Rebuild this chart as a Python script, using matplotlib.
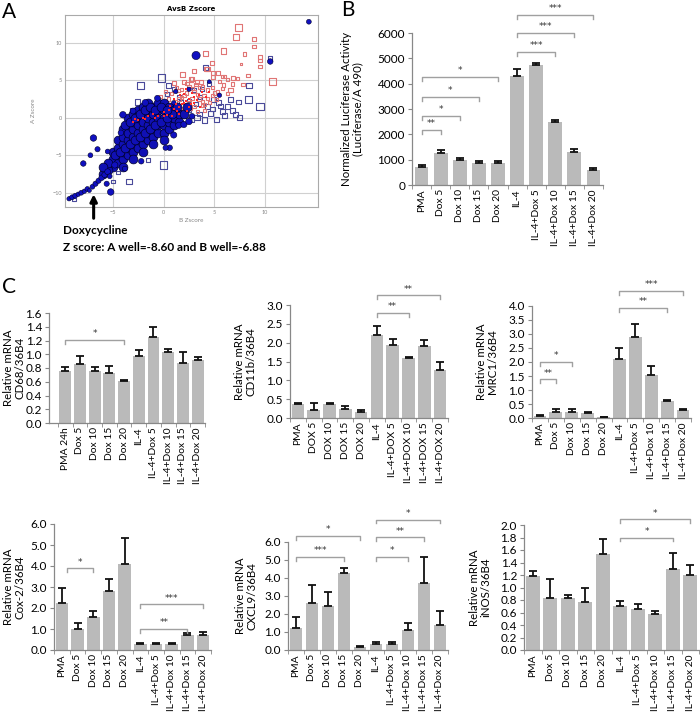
import matplotlib
matplotlib.use("Agg")
import matplotlib.pyplot as plt
import numpy as np

plt.rcParams['font.family'] = ['Lato', 'DejaVu Sans']

W, H = 700, 712

# ---------------- Panel A data ----------------
core_x = [-5, -5, -5, -4.5, -4.5, -4.5, -4.5, -4, -4, -4, -4, -4,
          -3.5, -3.5, -3.5, -3.5, -3.5, -3.5, -3, -3, -3, -3, -3, -3,
          -2.5, -2.5, -2.5, -2.5, -2.5, -2.5, -2, -2, -2, -2, -2, -2,
          -1.5, -1.5, -1.5, -1.5, -1.5, -1.5, -1, -1, -1, -1, -1,
          -0.5, -0.5, -0.5, -0.5, -0.5, 0, 0, 0, 0, 0, 0.5, 0.5, 0.5, 0.5,
          1, 1, 1, 1.5, 1.5, -5.5, -5.5, -6, -6, -4, -3, -2, -1, 0,
          -4.8, -4.3, -3.8, -3.3, -2.8, -2.3, -1.8, -1.3, -0.8, -0.3, 0.3, 0.8,
          -3.8, -3.3, -2.8, -2.3, -1.8, -1.3, -0.8, -0.3, 0.3, 1.3, 2.0, 2.3]
core_y = [-6.5, -5.5, -4.5, -6, -5, -4, -3, -5.5, -4.5, -3.5, -2.5, -1.5,
          -5, -4, -3, -2, -1, 0, -4.5, -3.5, -2.5, -1.5, -0.5, 0.5,
          -4, -3, -2, -1, 0, 1, -3.5, -2.5, -1.5, -0.5, 0.5, 1.5,
          -3, -2, -1, 0, 1, 2, -2.5, -1.5, -0.5, 0.5, 1.5,
          -2, -1, 0, 1, 2, -2, -1, 0, 1, 2, -1.5, -0.5, 0.5, 1.5,
          -1, 0, 1, -0.5, 0.5, -7, -6, -7.5, -6.5, -6.5, -5.5, -4.5, -3.5, -3,
          -5.0, -4.5, -4.0, -3.5, -3.0, -2.5, -2.0, -1.5, -1.0, -0.5, 0.0, 0.5,
          -1.0, -0.5, 0.0, 0.5, 1.0, 1.5, 1.0, 1.5, 1.0, 1.5, 0.5, 1.5]

blue_x = [-9.3, -9.0, -8.7, -8.4, -8.1, -7.8, -7.5, -7.3, -7.0, -6.7, -6.4, -6.1,
          -5.8, -5.5, -5.3, -4.8, -6.9, -7.9, -5.5, -5.2, -5.6, -4.0, -3.0, -1.8,
          -0.6, 1.5, 2.0, 2.5, 1.0, 0.6, 3.2, 10.5, 14.3, 1.2, 2.5, 4.5, 5.5, 1.0,
          -6.5, -4.2, -3.8, -2.2, 0.2, 2.8, -7.2]
blue_y = [-10.8, -10.6, -10.4, -10.2, -10.0, -9.8, -9.5, -9.7, -9.2, -8.8, -8.4, -8.0,
          -7.6, -7.2, -7.8, -6.3, -2.7, -6.1, -4.5, -9.9, -8.8, 0.4, 0.9, 2.0,
          2.6, -1.0, -0.9, -0.5, -2.3, -4.0, 8.3, 7.5, 12.8, 3.5, 3.8, 4.8, 3.0, 2.0,
          -4.2, -2.0, -6.8, -5.8, -4.0, 0.2, -5.0]
blue_s = [10, 12, 12, 10, 12, 10, 12, 8, 12, 14, 14, 16,
          16, 18, 12, 20, 22, 16, 12, 22, 14, 22, 18, 22,
          18, 20, 20, 22, 20, 16, 35, 16, 12, 10, 10, 8, 10, 10,
          14, 16, 14, 16, 14, 16, 12]

rsq_x = [7.4, 7.1, 8.9, 8.9, 5.9, 4.1, 8.0, 9.5, 9.5, 9.5, 4.8, 7.6, 4.3, 4.9,
         1.9, 8.3, 10.7, 5.8, 6.3, 7.3, 7.8, 2.7, 3.3, 2.8, 3.7, 1.0, 4.9, 5.9,
         6.6, 5.4, 4.2, 6.8, 1.5, 2.0, 2.5, 3.0, 3.5, 4.0, 4.5, 2.0, 3.0, 1.0,
         0.5, 3.5, 2.5, 4.0, 5.0, 1.5, 2.2, 3.8,
         0.8, 1.3, 1.8, 2.3, 2.8, 3.2, 3.8, 4.3, 4.8, 5.3, 5.8, 6.3, 0.3, 1.2,
         1.8, 2.3, 2.8, 3.3, 3.8, 4.3, 4.8, 5.2, 1.0, 1.7, 2.6, 3.3, 4.0, 0.2,
         -0.3, 5.5, 6.0, 3.0, 2.0, 6.8]
rsq_y = [12.0, 10.8, 10.5, 9.5, 8.9, 8.6, 8.5, 8.1, 7.6, 6.8, 7.3, 7.2, 6.5, 6.0,
         5.8, 5.6, 4.8, 5.5, 5.1, 5.2, 4.4, 5.1, 4.8, 5.2, 4.8, 4.6, 5.4, 4.4,
         3.7, 6.0, 6.5, 5.3, 2.5, 3.0, 2.0, 3.5, 2.5, 3.0, 2.0, 1.0, 1.5, 1.5,
         2.5, 4.0, 4.2, 1.0, 3.3, 3.6, 1.8, 1.6,
         3.2, 4.0, 3.8, 4.6, 3.9, 4.4, 4.1, 3.7, 4.0, 3.5, 3.9, 3.2, 1.8, 2.2,
         2.7, 3.3, 2.6, 3.1, 2.2, 2.6, 3.0, 2.4, 0.8, 1.2, 1.2, 0.8, 1.8, 3.5,
         2.8, 4.8, 5.5, 6.2, 4.8, 4.5]
rsq_s = [26, 18, 6, 6, 14, 14, 5, 6, 6, 6, 7, 3, 12, 8,
         12, 6, 24, 6, 6, 6, 6, 10, 10, 8, 8, 10, 8, 8,
         10, 8, 12, 8, 6, 6, 6, 6, 6, 6, 6, 5, 5, 5,
         5, 5, 6, 5, 6, 5, 5, 5,
         6, 6, 5, 6, 5, 6, 5, 6, 5, 6, 5, 6, 5, 5,
         5, 5, 5, 5, 5, 5, 5, 5, 5, 5, 5, 5, 5, 6,
         6, 6, 6, 8, 8, 6]

rdot_x = [-3, -2.5, -2, -1.5, -1, -0.5, 0, 0.5, 1, 1.5, 2, 2.5, 3, 1, 2, 3, 1.5, 2.5, 3.5,
          0.3, 0.8, 1.3, 1.8, 2.2, 2.8, 3.3, 3.8, 4.2, 1.2, 0.6, 2.3, 2.7, 3.6, 4.5,
          1.6, 2.2, -0.8, -1.8, -2.8, 0.0]
rdot_y = [-0.5, -0.3, 0, 0.2, 0.5, 0.3, 0.8, 1, 1.2, 1.5, 2, 2.5, 2.8, 2.5, 3.2, 2, 0.5, 1.5, 3,
          0.4, 0.2, 0.9, 1.8, 2.3, 3.3, 2.4, 3.5, 2.8, 1.9, 1.6, 0.9, 1.9, 1.4, 3.4,
          3.0, 3.8, 0.0, -0.2, -0.2, 0.3]

bsq_x = [-2.3, -0.2, -2.6, -3.1, 0.5, 0.0, -3.4, -5.0, -1.5, -2.0, -4.5, -8.8,
         3.3, 4.9, 6.3, 7.1, 8.4, 9.5, 8.4, 7.4, 5.8, 4.3, 2.4, 3.6, 1.7, 4.1,
         10.5, 6.6, 5.4, 3.0, 1.4, 1.0,
         2.0, 2.7, 3.5, 4.0, 4.6, 5.2, 6.0, 6.8, 7.5, 3.2, 4.8, 5.6, 2.5, 1.5,
         0.3, 1.0, 3.8, 4.5]
bsq_y = [4.3, 5.3, 2.1, 1.1, 4.3, -6.3, -8.5, -8.5, -5.6, -3.4, -7.3, -10.9,
         0.0, 2.4, 1.5, 0.4, 2.4, 1.5, 4.3, 2.1, 0.8, 1.5, 1.1, 2.8, 2.1, 6.7,
         8.0, 2.4, 2.0, 3.7, 1.5, -0.3,
         0.3, -0.2, 0.5, -0.3, 0.6, -0.2, 0.3, 1.0, 0.0, 1.8, 1.2, 1.6, 2.3, 2.8,
         3.2, 3.8, 3.8, 4.5]
bsq_s = [26, 26, 14, 8, 12, 26, 14, 8, 8, 7, 7, 7,
         14, 14, 14, 14, 26, 30, 14, 12, 14, 12, 14, 8, 8, 12,
         8, 12, 12, 10, 10, 10,
         12, 14, 12, 14, 12, 14, 12, 12, 14, 8, 10, 10, 8, 8,
         8, 8, 8, 8]

dox_b, dox_a = -6.88, -8.60

# ---------------- Panel B data ----------------
b_cats = ['PMA', 'Dox 5', 'Dox 10', 'Dox 15', 'Dox 20', 'IL-4',
          'IL-4+Dox 5', 'IL-4+Dox 10', 'IL-4+Dox 15', 'IL-4+Dox 20']
b_vals = [700, 1270, 980, 870, 870, 4300, 4720, 2500, 1320, 600]
b_err = [80, 120, 80, 80, 60, 270, 100, 70, 120, 60]
b_sig = [(0, 1, 2170, '**'), (0, 2, 2730, '*'), (0, 3, 3480, '*'), (0, 4, 4270, '*'),
         (5, 7, 5260, '***'), (5, 8, 6010, '***'), (5, 9, 6720, '***')]

# ---------------- Panel C data ----------------
c1_cats = ['PMA 24h', 'Dox 5', 'Dox 10', 'Dox 15', 'Dox 20', 'IL-4',
           'IL-4+Dox 5', 'IL-4+Dox 10', 'IL-4+Dox 15', 'IL-4+Dox 20']
c1_vals = [0.75, 0.86, 0.75, 0.73, 0.61, 0.98, 1.25, 1.04, 0.87, 0.92]
c1_err = [0.06, 0.12, 0.06, 0.10, 0.01, 0.08, 0.15, 0.04, 0.17, 0.04]
c1_sig = [(0, 4, 1.21, '*')]

c2_cats = ['PMA', 'DOX 5', 'DOX 10', 'DOX 15', 'DOX 20', 'IL-4',
           'IL-4+DOX 5', 'IL-4+DOX 10', 'IL-4+DOX 15', 'IL-4+DOX 20']
c2_vals = [0.36, 0.20, 0.36, 0.25, 0.17, 2.20, 1.95, 1.60, 1.91, 1.28]
c2_err = [0.03, 0.20, 0.03, 0.07, 0.04, 0.23, 0.15, 0.02, 0.15, 0.22]
c2_sig = [(5, 7, 2.79, '**'), (5, 9, 3.26, '**')]

c3_cats = ['PMA', 'Dox 5', 'Dox 10', 'Dox 15', 'Dox 20', 'IL-4',
           'IL-4+Dox 5', 'IL-4+Dox 10', 'IL-4+Dox 15', 'IL-4+Dox 20']
c3_vals = [0.08, 0.22, 0.22, 0.17, 0.04, 2.10, 2.90, 1.55, 0.62, 0.28]
c3_err = [0.03, 0.10, 0.10, 0.04, 0.01, 0.40, 0.45, 0.30, 0.02, 0.05]
c3_sig = [(0, 1, 1.39, '**'), (0, 2, 2.0, '*'), (5, 8, 3.93, '**'), (5, 9, 4.54, '***')]

c4_cats = c3_cats
c4_vals = [2.25, 1.00, 1.58, 2.80, 4.10, 0.28, 0.28, 0.28, 0.72, 0.72]
c4_err = [0.70, 0.27, 0.30, 0.57, 1.25, 0.05, 0.05, 0.05, 0.07, 0.14]
c4_sig = [(0.3, 2, 3.9, '*'), (5, 8, 1.0, '**'), (5, 9, 2.17, '***')]

c5_cats = c3_cats
c5_vals = [1.25, 2.60, 2.45, 4.30, 0.18, 0.33, 0.35, 1.10, 3.75, 1.40]
c5_err = [0.60, 1.00, 0.80, 0.25, 0.03, 0.10, 0.08, 0.40, 1.40, 0.75]
c5_sig = [(0, 3, 5.18, '***'), (0, 4, 6.33, '*'), (5, 7, 5.18, '*'),
          (5, 8, 6.26, '**'), (5, 9, 7.25, '*')]

c6_cats = c3_cats
c6_vals = [1.19, 0.84, 0.84, 0.77, 1.53, 0.70, 0.66, 0.57, 1.30, 1.20]
c6_err = [0.07, 0.29, 0.04, 0.23, 0.25, 0.08, 0.07, 0.05, 0.26, 0.16]
c6_sig = [(5, 8, 1.80, '*'), (5, 9, 2.09, '*')]


def px_axes(l, t, r, b):
    return fig.add_axes([l / W, 1 - b / H, (r - l) / W, (b - t) / H])


fig = plt.figure(figsize=(7.0, 7.12), dpi=100)

# ================= Panel A =================
axA = px_axes(65, 15, 318, 207)
axA.set_xlim(-9.7, 15.2)
axA.set_ylim(-11.9, 13.7)
axA.set_xticks([-5, 0, 5, 10])
axA.set_yticks([-10, -5, 0, 5, 10])
axA.grid(True, color='#d0d0d0', lw=0.8)
axA.set_axisbelow(True)
axA.tick_params(labelsize=4, colors='#888888', length=0, pad=2)
for sp in axA.spines.values():
    sp.set_color('#aaaaaa')
    sp.set_linewidth(0.8)
axA.scatter(bsq_x, bsq_y, s=bsq_s, marker='s', facecolors='none',
            edgecolors='#4a4a9a', linewidths=0.8, zorder=2)
axA.scatter(rsq_x, rsq_y, s=rsq_s, marker='s', facecolors='none',
            edgecolors='#e07575', linewidths=0.8, zorder=3)
axA.scatter(core_x, core_y, s=40, marker='o', color='#1010b4',
            edgecolors='#00002a', linewidths=0.5, zorder=4)
axA.scatter(blue_x, blue_y, s=blue_s, marker='o', color='#1010c0',
            edgecolors='#00002a', linewidths=0.4, zorder=4)
axA.scatter(rdot_x, rdot_y, s=3, marker='s', color='#ff2a2a',
            linewidths=0, zorder=5)
axA.set_title('AvsB Zscore', fontsize=5, fontweight='bold', pad=3, family='DejaVu Sans')
axA.set_xlabel('B Zscore', fontsize=4.5, color='#888888', labelpad=2)
axA.set_ylabel('A Zscore', fontsize=4.5, color='#888888', labelpad=12)
axA.annotate('', xy=(dox_b, -10.2), xytext=(dox_b, -13.4),
             xycoords='data', textcoords='data',
             arrowprops=dict(arrowstyle='-|>', color='black', lw=2.2,
                             mutation_scale=10, shrinkA=0, shrinkB=0),
             annotation_clip=False)
fig.text(63 / W, 1 - 230 / H, 'Doxycycline', fontsize=8.5, fontweight='bold', va='center')
fig.text(63 / W, 1 - 247 / H, 'Z score: A well=%.2f and B well=%.2f' % (dox_a, dox_b),
         fontsize=8.5, fontweight='bold', va='center')


# ================= bar helper =================
def bar_panel(ax, cats, vals, errs, sig, ymax, ystep, fmt, ylabel, h, lab_px,
              width=0.8, xl=-0.5, xr=9.5):
    x = np.arange(len(cats))
    ax.bar(x, vals, width=width, color='#bababa', zorder=2)
    ax.errorbar(x, vals, yerr=[np.zeros(len(errs)), errs], fmt='none',
                ecolor='#111111', elinewidth=1.3, capsize=3, capthick=1.3, zorder=3)
    ax.set_xlim(xl, xr)
    ax.set_ylim(0, ymax)
    ticks = np.arange(0, ymax + ystep / 2, ystep)
    ax.set_yticks(ticks)
    ax.set_yticklabels([fmt % t for t in ticks])
    ax.set_xticks(x)
    ax.set_xticklabels(cats, rotation=90, fontsize=7.4)
    ax.set_xticks(np.arange(-0.5, len(cats), 1), minor=True)
    ax.tick_params(axis='x', which='major', length=0, pad=3)
    ax.tick_params(axis='x', which='minor', length=3, direction='out', color='#888888')
    ax.tick_params(axis='y', length=3, direction='out', color='#888888', labelsize=8.5, pad=2)
    for s in ['top', 'right']:
        ax.spines[s].set_visible(False)
    for s in ['left', 'bottom']:
        ax.spines[s].set_color('#888888')
        ax.spines[s].set_linewidth(0.9)
    ax.set_ylabel(ylabel, fontsize=8.3, linespacing=1.1, va='center')
    bb = ax.get_position()
    ax.yaxis.set_label_coords((lab_px / W - bb.x0) / bb.width, 0.5)
    for x1, x2, yy, lab in sig:
        ax.plot([x1, x1, x2, x2], [yy - h, yy, yy, yy - h], color='#a0a0a0',
                lw=1.0, clip_on=False, zorder=4)
        ax.text((x1 + x2) / 2, yy + h * 0.4, lab, ha='center', va='bottom',
                fontsize=6.5, color='#333333', clip_on=False, family='DejaVu Sans')


# ================= Panel B =================
axB = px_axes(412, 33, 603, 185)
bar_panel(axB, b_cats, b_vals, b_err, b_sig, 6000, 1000, '%d',
          'Normalized Luciferase Activity\n(Luciferase/A 490)', 160, 352, width=0.72)

# ================= Panel C =================
axC1 = px_axes(49, 313, 205, 423)
bar_panel(axC1, c1_cats, c1_vals, c1_err, c1_sig, 1.6, 0.2, '%.1f',
          'Relative mRNA\nCD68/36B4', 0.06, 14, xl=-1.1)
axC2 = px_axes(290, 305, 448, 418)
bar_panel(axC2, c2_cats, c2_vals, c2_err, c2_sig, 3.0, 0.5, '%.1f',
          'Relative mRNA\nCD11b/36B4', 0.1, 245)
axC3 = px_axes(532, 306, 691, 418)
bar_panel(axC3, c3_cats, c3_vals, c3_err, c3_sig, 4.0, 0.5, '%.1f',
          'Relative mRNA\nMRC1/36B4', 0.14, 487)
axC4 = px_axes(54, 524, 211, 650)
bar_panel(axC4, c4_cats, c4_vals, c4_err, c4_sig, 6.0, 1.0, '%.1f',
          'Relative mRNA\nCox-2/36B4', 0.19, 14)
axC5 = px_axes(288, 542, 448, 650)
bar_panel(axC5, c5_cats, c5_vals, c5_err, c5_sig, 6.0, 1.0, '%.1f',
          'Relative mRNA\nCXCL9/36B4', 0.22, 246)
axC6 = px_axes(524, 525, 699, 650)
bar_panel(axC6, c6_cats, c6_vals, c6_err, c6_sig, 2.0, 0.2, '%.1f',
          'Relative mRNA\niNOS/36B4', 0.063, 480)

# panel letters
fig.text(2 / W, 1 - 12 / H, 'A', fontsize=15, va='center')
fig.text(341 / W, 1 - 10 / H, 'B', fontsize=15, va='center')
fig.text(2 / W, 1 - 287 / H, 'C', fontsize=15, va='center')

fig.savefig('out.png', dpi=100)
